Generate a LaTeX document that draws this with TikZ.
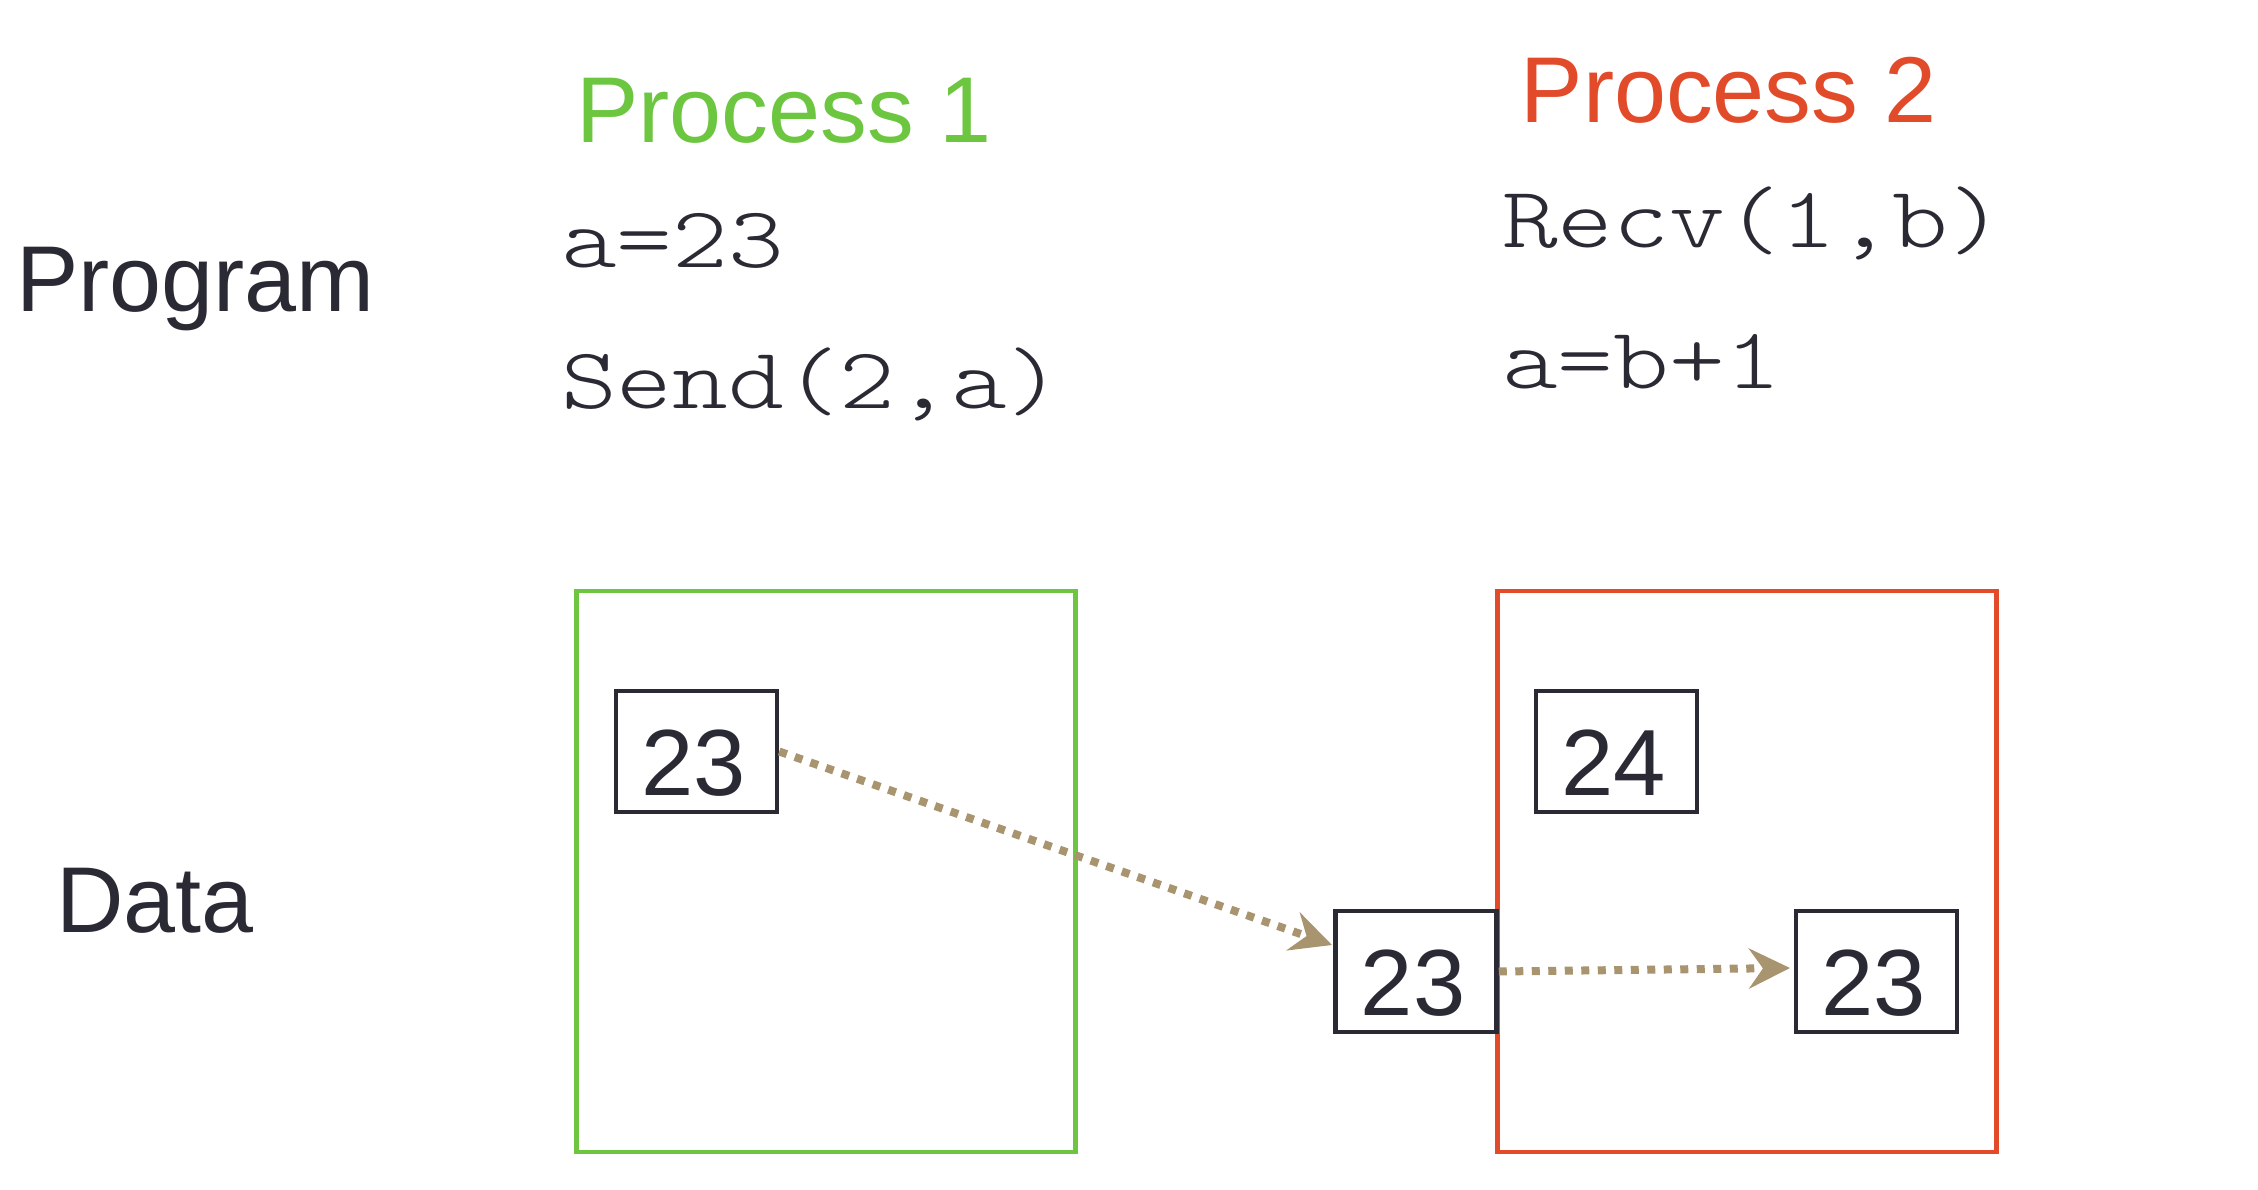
\documentclass[tikz,border=0pt]{standalone}
\usepackage{fontspec}
\setmainfont{Liberation Sans}
\newfontfamily\codefont[FakeStretch=1.22]{lmmonolt10-regular.otf}
\usetikzlibrary{arrows.meta}
\definecolor{pgreen}{RGB}{108,198,64}
\definecolor{pred}{RGB}{226,75,42}
\definecolor{ink}{RGB}{42,42,53}
\definecolor{tan}{RGB}{168,148,110}
\begin{document}
\begin{tikzpicture}[x=1pt,y=-1pt,
  lbl/.style={anchor=base west, inner sep=0pt, font=\fontsize{93.5}{94}\selectfont, text=ink},
  code/.style={anchor=base west, inner sep=0pt, font={\codefont\fontsize{87}{87}\selectfont}, text=ink},
  procbox/.style={draw, line width=4.5pt, minimum width=499pt, minimum height=561pt, inner sep=0pt},
  valbox/.style={draw=ink, fill=white, line width=4.5pt, minimum width=161pt, minimum height=121pt, inner sep=0pt, text height=87pt, text depth=0pt, font=\fontsize{94}{94}\selectfont, text=ink},
  msg/.style={draw=tan, line width=8pt, dash pattern=on 8pt off 8.5pt, -{Stealth[length=41pt,width=40pt,inset=14pt]}}
]
\useasboundingbox (0,0) rectangle (2258,1190);
\node[procbox, draw=pgreen] (p1box) at (826,871.5) {};
\node[procbox, draw=pred] (p2box) at (1747,871.5) {};
\node[lbl] (prog) at (16,311) {Program};
\node[lbl] (data) at (56,932) {Data};
\node[lbl, text=pgreen] (p1) at (576,143) {Process 1};
\node[lbl, text=pred] (p2) at (1520.5,123) {Process 2};
\node[code] (c1) at (561,268) {a=23};
\node[code] (c2) at (561,408) {Send(2,a)};
\node[code] (c3) at (1502,248) {Recv(1,b)};
\node[code] (c4) at (1502,388) {a=b+1};
\node[valbox] (v1) at (696.5,751.5) {\hspace*{-6pt}23};
\node[valbox] (v2) at (1616.5,751.5) {\hspace*{-6pt}24};
\node[valbox] (v3) at (1416,971.5) {\hspace*{-6pt}23};
\node[valbox] (v4) at (1876.5,971.5) {\hspace*{-6pt}23};
\coordinate (t1) at (1332,945);
\coordinate (t2) at (1790,968);
\draw[msg] (v1.east) -- (t1);
\draw[msg] (v3.east) -- (t2);
\end{tikzpicture}
\end{document}
